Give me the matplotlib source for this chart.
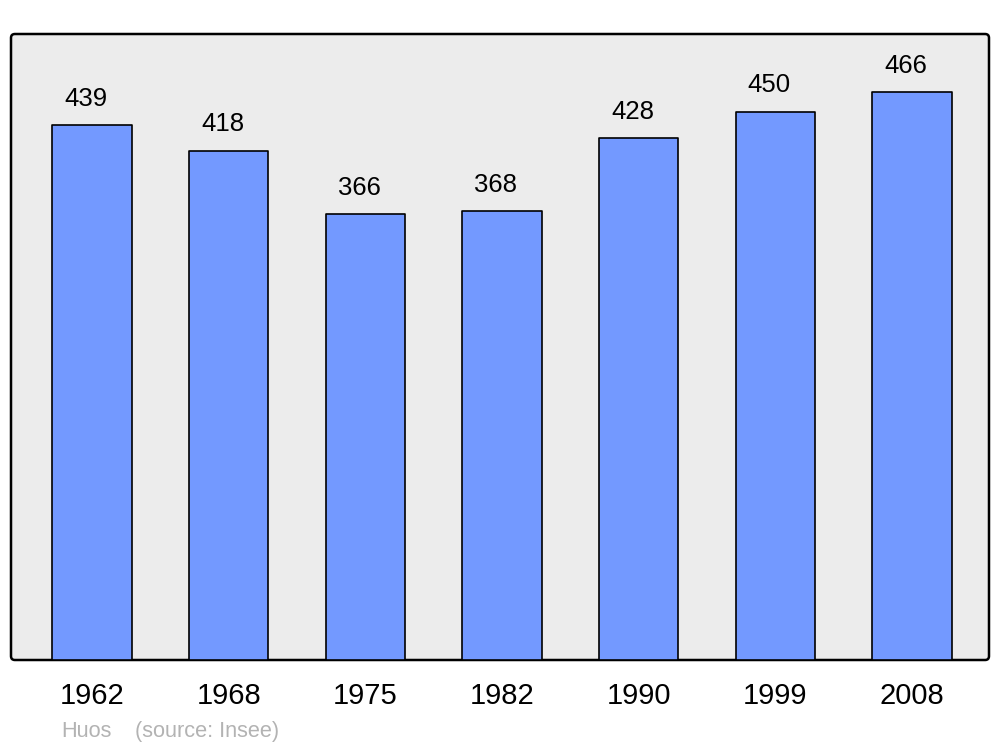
import matplotlib.pyplot as plt
from matplotlib.patches import FancyBboxPatch

years = ["1962", "1968", "1975", "1982", "1990", "1999", "2008"]
population = [439, 418, 366, 368, 428, 450, 466]

plt.rcParams['font.family'] = ['Liberation Sans', 'DejaVu Sans']

fig = plt.figure(figsize=(10, 7.47), dpi=100)
ax = fig.add_axes([0.011, 87 / 747, 0.978, 626 / 747])
ax.patch.set_visible(False)
for s in ax.spines.values():
    s.set_visible(False)

# background frame with slightly rounded corners
frame = FancyBboxPatch((0, 0), 1, 1, boxstyle="round,pad=0,rounding_size=0.004",
                       mutation_aspect=978 / 626, transform=ax.transAxes,
                       facecolor="#ececec", edgecolor="black", linewidth=1.8,
                       zorder=0, clip_on=False)
ax.add_patch(frame)

x = list(range(len(years)))
bars = ax.bar(x, population, width=0.58, color="#7399ff", edgecolor="black",
              linewidth=1.2, zorder=2)
for b in bars:
    b.set_joinstyle("round")

# value labels sit a bit left of the bar centre in the original
for xi, v in zip(x, population):
    ax.annotate(str(v), (xi, v), xytext=(-4.5, 13.7), textcoords="offset points",
                ha="center", va="baseline", fontsize=18.5, color="black")

ax.set_xlim(-0.593, 6.563)
ax.set_ylim(0, 513.6)
ax.set_yticks([])
ax.set_xticks(x)
ax.set_xticklabels(years, fontsize=21)
ax.tick_params(axis="x", length=0, pad=16)

fig.text(0.061, 1 - 737 / 747, "Huos", color="#b3b3b3", fontsize=15.7, va="baseline")
fig.text(0.135, 1 - 737 / 747, "(source: Insee)", color="#b3b3b3", fontsize=15.7, va="baseline")

fig.savefig("out.png", dpi=100)
